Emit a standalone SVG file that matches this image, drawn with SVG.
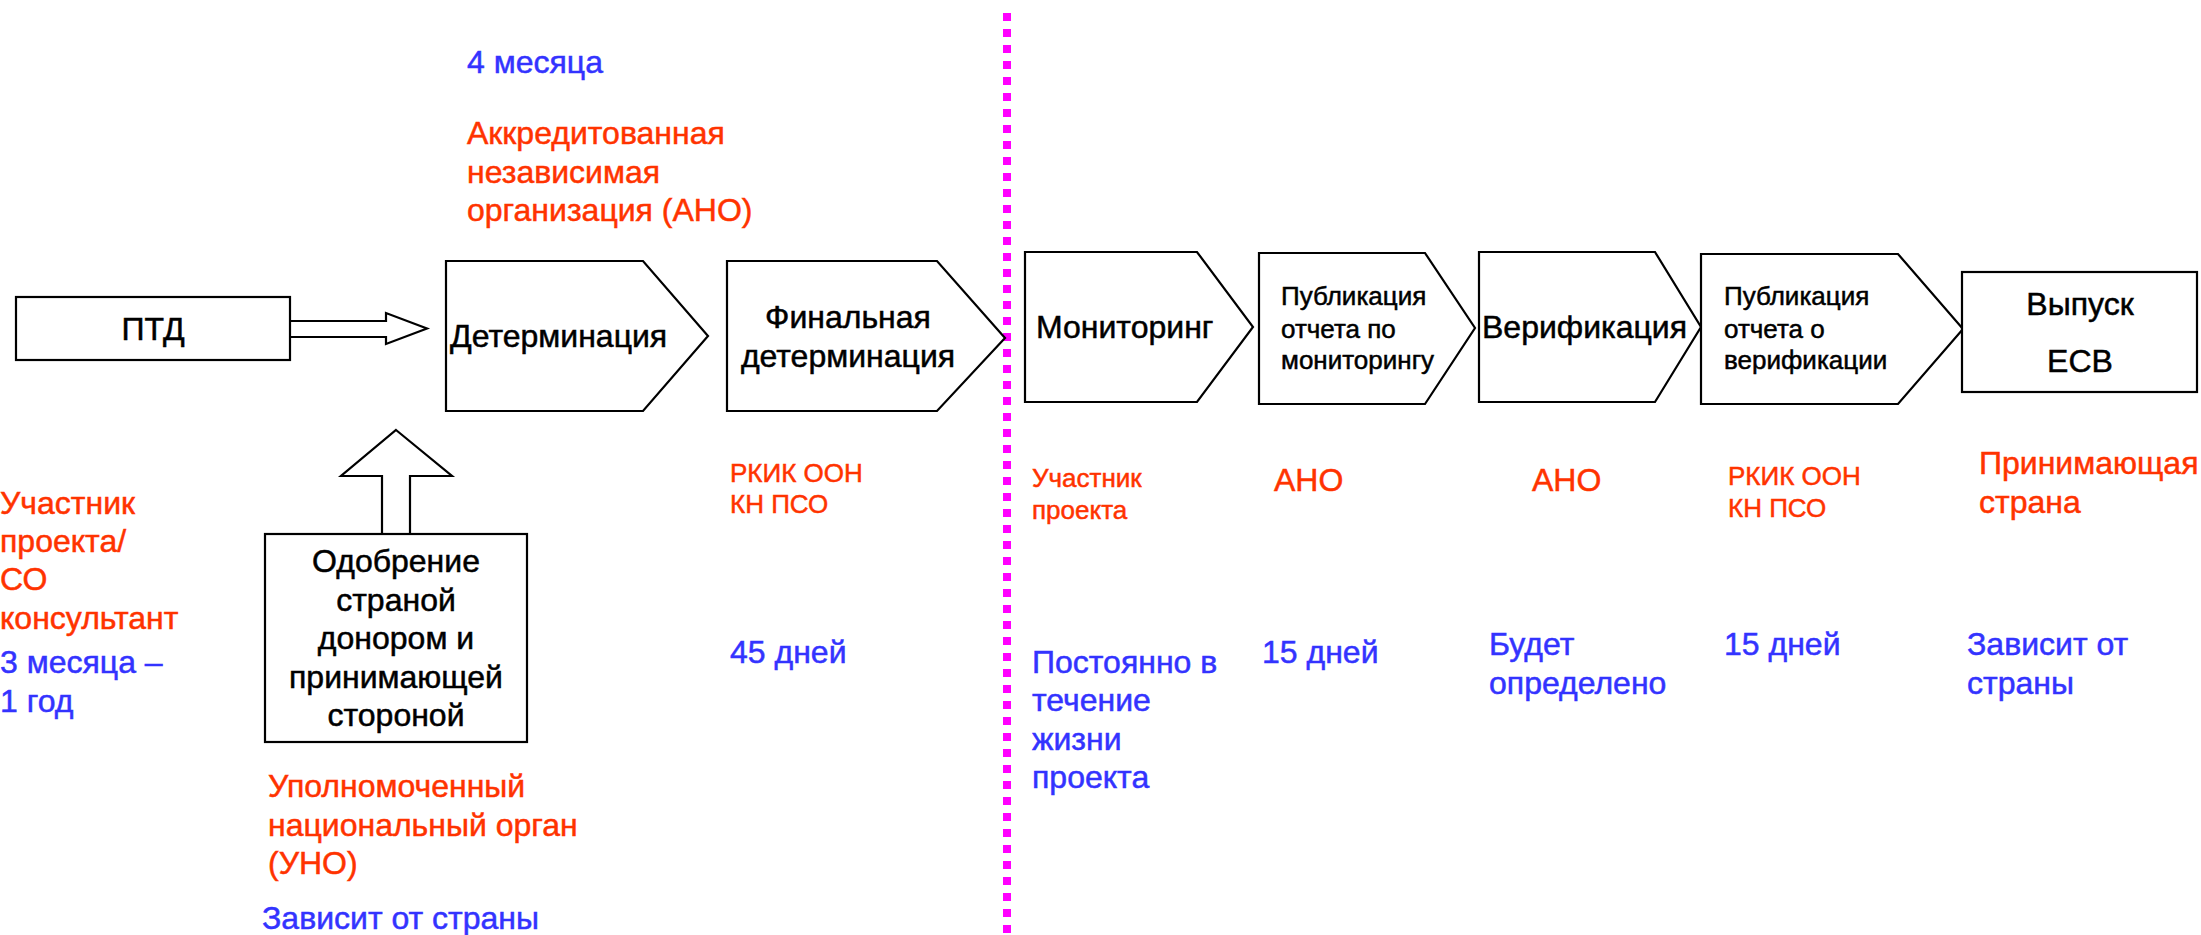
<svg xmlns="http://www.w3.org/2000/svg" width="2201" height="935" viewBox="0 0 2201 935">
<style>
  .shape { fill: #ffffff; stroke: #000000; stroke-width: 2.2; stroke-linejoin: miter; }
  .t { font-family: "Liberation Sans", Arial, sans-serif; font-size: 32px; fill: #000000; stroke: #000000; stroke-width: 0.5; }
  .s { font-size: 26px; }
  .red { fill: #FF3300; stroke: #FF3300; }
  .blue { fill: #3333FF; stroke: #3333FF; }
  .mid { text-anchor: middle; }
  .divider { stroke: #FF00FF; stroke-width: 8; stroke-dasharray: 8 8; fill: none; }
</style>
<rect width="2201" height="935" fill="#ffffff"/>

<g id="connectors">
  <path class="shape" d="M290,321 H386 V313 L427,328.5 L386,344 V337 H290"/>
  <polygon class="shape" points="396,430 452,476 410,476 410,534 382,534 382,476 341,476"/>
  <line class="divider" x1="1007" y1="13" x2="1007" y2="935"/>
</g>

<g id="node-ptd">
  <rect class="shape" x="16" y="297" width="274" height="63"/>
  <text class="t mid" x="153" y="340">ПТД</text>
</g>

<g id="node-determination">
  <polygon class="shape" points="446,261 643,261 708,336 643,411 446,411"/>
  <text class="t" x="450" y="347">Детерминация</text>
</g>

<g id="node-final-determination">
  <polygon class="shape" points="727,261 937,261 1005,338 937,411 727,411"/>
  <text class="t mid" x="848" y="328">Финальная</text>
  <text class="t mid" x="848" y="367">детерминация</text>
</g>

<g id="node-monitoring">
  <polygon class="shape" points="1025,252 1197,252 1253,327 1197,402 1025,402"/>
  <text class="t" x="1036" y="338">Мониторинг</text>
</g>

<g id="node-publication-monitoring">
  <polygon class="shape" points="1259,253 1425,253 1475,328 1425,404 1259,404"/>
  <text class="t s" x="1281" y="305">Публикация</text>
  <text class="t s" x="1281" y="338">отчета по</text>
  <text class="t s" x="1281" y="369">мониторингу</text>
</g>

<g id="node-verification">
  <polygon class="shape" points="1479,252 1655,252 1701,327 1655,402 1479,402"/>
  <text class="t" x="1482" y="338">Верификация</text>
</g>

<g id="node-publication-verification">
  <polygon class="shape" points="1701,254 1898,254 1963,329 1898,404 1701,404"/>
  <text class="t s" x="1724" y="305">Публикация</text>
  <text class="t s" x="1724" y="338">отчета о</text>
  <text class="t s" x="1724" y="369">верификации</text>
</g>

<g id="node-issuance">
  <rect class="shape" x="1962" y="272" width="235" height="120"/>
  <text class="t mid" x="2080" y="315">Выпуск</text>
  <text class="t mid" x="2080" y="372">ЕСВ</text>
</g>

<g id="node-approval">
  <rect class="shape" x="265" y="534" width="262" height="208"/>
  <text class="t mid" x="396" y="572">Одобрение</text>
  <text class="t mid" x="396" y="611">страной</text>
  <text class="t mid" x="396" y="649">донором и</text>
  <text class="t mid" x="396" y="688">принимающей</text>
  <text class="t mid" x="396" y="726">стороной</text>
</g>

<g id="labels">
  <text class="t blue" x="467" y="73">4 месяца</text>
  <text class="t red" x="467" y="144">Аккредитованная</text>
  <text class="t red" x="467" y="183">независимая</text>
  <text class="t red" x="467" y="221">организация (АНО)</text>

  <text class="t red" x="0" y="514">Участник</text>
  <text class="t red" x="0" y="552">проекта/</text>
  <text class="t red" x="0" y="590">СО</text>
  <text class="t red" x="0" y="629">консультант</text>
  <text class="t blue" x="0" y="673">3 месяца –</text>
  <text class="t blue" x="0" y="712">1 год</text>

  <text class="t red" x="268" y="797">Уполномоченный</text>
  <text class="t red" x="268" y="836">национальный орган</text>
  <text class="t red" x="268" y="874">(УНО)</text>
  <text class="t blue" x="262" y="929">Зависит от страны</text>

  <text class="t s red" x="730" y="482">РКИК ООН</text>
  <text class="t s red" x="730" y="513">КН ПСО</text>
  <text class="t blue" x="730" y="663">45 дней</text>

  <text class="t s red" x="1032" y="487">Участник</text>
  <text class="t s red" x="1032" y="519">проекта</text>
  <text class="t blue" x="1032" y="673">Постоянно в</text>
  <text class="t blue" x="1032" y="711">течение</text>
  <text class="t blue" x="1032" y="750">жизни</text>
  <text class="t blue" x="1032" y="788">проекта</text>

  <text class="t red" x="1274" y="491">АНО</text>
  <text class="t blue" x="1262" y="663">15 дней</text>

  <text class="t red" x="1532" y="491">АНО</text>
  <text class="t blue" x="1489" y="655">Будет</text>
  <text class="t blue" x="1489" y="694">определено</text>

  <text class="t s red" x="1728" y="485">РКИК ООН</text>
  <text class="t s red" x="1728" y="517">КН ПСО</text>
  <text class="t blue" x="1724" y="655">15 дней</text>

  <text class="t red" x="1979" y="474">Принимающая</text>
  <text class="t red" x="1979" y="513">страна</text>
  <text class="t blue" x="1967" y="655">Зависит от</text>
  <text class="t blue" x="1967" y="694">страны</text>
</g>
</svg>
